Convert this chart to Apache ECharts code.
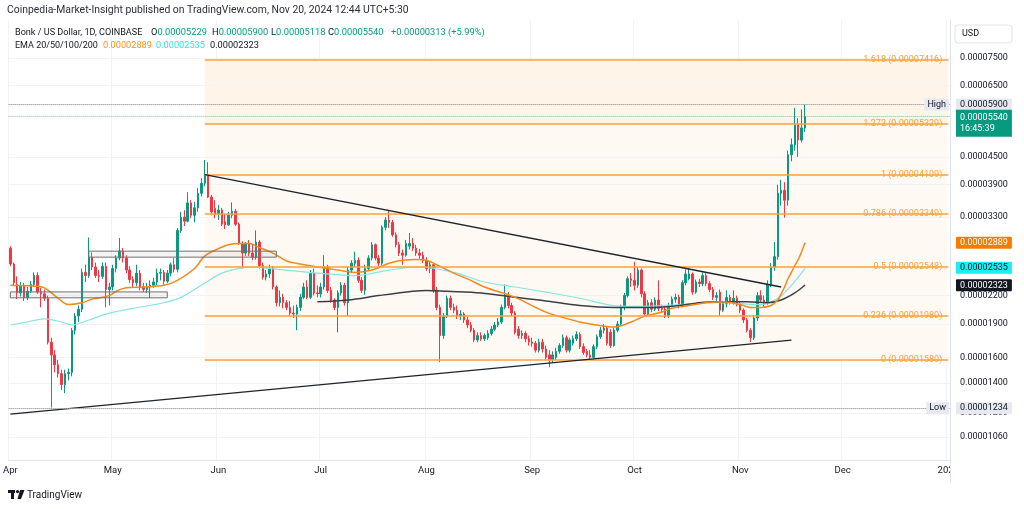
<!DOCTYPE html>
<html>
<head>
<meta charset="utf-8">
<script src="https://cdn.jsdelivr.net/npm/echarts@6.0.0/dist/echarts.min.js"></script>
<style>
html,body{margin:0;padding:0;background:#ffffff;}
#chart{width:1024px;height:509px;}
</style>
</head>
<body>
<div id="chart"></div>
<script>
// ---------- categories (daily, Apr 1 2024 .. Jan 1 2025) ----------
const monthSpans = [['2024-04',30],['2024-05',31],['2024-06',30],['2024-07',31],['2024-08',31],['2024-09',30],['2024-10',31],['2024-11',30],['2024-12',31],['2025-01',1]];
const monthNames = {'01':'2025','04':'Apr','05':'May','06':'Jun','07':'Jul','08':'Aug','09':'Sep','10':'Oct','11':'Nov','12':'Dec'};

// ---------- daily candles [open, close, low, high] in units of 0.00001 USD ----------
const apr = [
[2.81,2.59,2.56,2.84],[2.59,2.35,2.31,2.61],[2.33,2.23,2.16,2.43],[2.23,2.31,2.19,2.36],[2.31,2.18,2.14,2.35],
[2.18,2.25,2.15,2.30],[2.25,2.33,2.23,2.37],[2.33,2.44,2.30,2.48],[2.44,2.24,2.22,2.48],[2.24,2.22,2.07,2.29],
[2.22,2.17,2.14,2.27],[2.17,1.73,1.71,2.20],[1.73,1.62,1.234,1.77],[1.62,1.54,1.48,1.66],[1.54,1.47,1.44,1.58],
[1.47,1.39,1.35,1.50],[1.39,1.47,1.33,1.50],[1.47,1.48,1.42,1.51],[1.48,1.84,1.45,1.86],[1.84,1.98,1.80,2.01],
[1.98,2.05,1.92,2.09],[2.05,2.48,2.02,2.53],[2.48,2.44,2.36,2.58],[2.44,2.68,2.41,2.97],[2.68,2.55,2.51,2.75],
[2.55,2.44,2.41,2.61],[2.44,2.43,2.36,2.51],[2.43,2.56,2.40,2.61],[2.56,2.27,2.07,2.61],[2.27,2.30,2.09,2.35]
];
const may = [
[2.30,2.53,2.26,2.58],[2.53,2.67,2.48,2.71],[2.67,2.77,2.64,2.96],[2.77,2.67,2.61,2.81],[2.67,2.51,2.47,2.71],
[2.51,2.39,2.35,2.56],[2.39,2.35,2.30,2.43],[2.35,2.47,2.31,2.58],[2.47,2.30,2.26,2.51],[2.30,2.27,2.24,2.35],
[2.27,2.30,2.23,2.35],[2.30,2.32,2.17,2.38],[2.32,2.36,2.29,2.41],[2.36,2.47,2.32,2.53],[2.47,2.48,2.38,2.53],
[2.48,2.37,2.33,2.51],[2.37,2.47,2.35,2.51],[2.47,2.58,2.43,2.61],[2.58,2.52,2.48,2.67],[2.52,3.08,2.48,3.12],
[3.08,3.30,3.04,3.39],[3.30,3.23,3.15,3.42],[3.23,3.55,3.21,3.75],[3.55,3.33,3.28,3.60],[3.33,3.46,3.21,3.57],
[3.46,3.73,3.39,3.83],[3.73,3.93,3.67,4.03],[3.93,4.109,3.87,4.43],[4.109,3.66,3.64,4.38],[3.66,3.39,3.33,3.70],
[3.45,3.35,3.28,3.60]
];
const jun = [
[3.35,3.42,3.25,3.51],[3.42,3.18,3.15,3.46],[3.22,3.17,3.10,3.35],[3.17,3.33,3.15,3.39],[3.33,3.40,3.28,3.56],
[3.40,3.18,3.15,3.44],[3.18,2.88,2.86,3.21],[2.88,2.74,2.53,2.91],[2.74,2.87,2.70,2.90],[2.87,2.74,2.70,2.93],
[2.74,2.68,2.64,2.86],[2.68,2.90,2.65,3.08],[2.90,2.57,2.53,2.93],[2.57,2.42,2.39,2.61],[2.42,2.46,2.38,2.51],
[2.46,2.53,2.41,2.58],[2.53,2.30,2.27,2.56],[2.30,2.12,2.08,2.32],[2.12,2.18,2.08,2.26],[2.18,2.12,2.06,2.22],
[2.12,2.07,2.04,2.15],[2.07,2.01,1.98,2.14],[2.01,2.00,1.96,2.09],[2.00,2.07,1.84,2.10],[2.07,2.18,2.03,2.22],
[2.18,2.30,2.16,2.35],[2.30,2.18,2.16,2.38],[2.18,2.47,2.16,2.51],[2.47,2.23,2.20,2.53],[2.23,2.22,2.18,2.32]
];
const jul = [
[2.22,2.30,2.18,2.35],[2.30,2.55,2.27,2.71],[2.55,2.26,2.23,2.58],[2.26,2.15,2.12,2.30],[2.15,2.07,2.04,2.17],
[2.07,2.23,1.82,2.26],[2.23,2.32,2.20,2.36],[2.32,2.12,2.09,2.35],[2.12,2.51,1.98,2.55],[2.51,2.60,2.47,2.64],
[2.60,2.64,2.55,2.76],[2.64,2.38,2.35,2.68],[2.38,2.26,2.23,2.42],[2.26,2.53,2.21,2.58],[2.53,2.67,2.50,2.71],
[2.67,2.86,2.64,2.90],[2.86,2.67,2.64,2.88],[2.67,2.60,2.56,2.71],[2.60,3.13,2.57,3.16],[3.13,3.25,3.08,3.30],
[3.25,3.21,3.12,3.42],[3.21,3.01,2.98,3.25],[3.01,2.86,2.82,3.05],[2.86,2.74,2.70,2.90],[2.74,2.71,2.58,2.79],
[2.71,2.88,2.69,2.93],[2.84,2.88,2.79,3.04],[2.88,2.81,2.77,2.96],[2.81,2.74,2.70,2.86],[2.74,2.71,2.66,2.80],
[2.71,2.64,2.60,2.76]
];
const aug = [
[2.64,2.53,2.50,2.68],[2.53,2.58,2.47,2.62],[2.58,2.26,2.23,2.60],[2.26,2.07,2.04,2.30],[2.07,1.79,1.56,2.10],
[1.79,1.98,1.76,2.01],[1.98,2.17,1.96,2.20],[2.17,2.07,2.04,2.20],[2.07,2.04,2.01,2.11],[2.04,1.98,1.95,2.09],
[1.98,2.00,1.94,2.04],[2.00,1.94,1.91,2.02],[1.94,1.89,1.86,1.97],[1.89,1.84,1.82,1.92],[1.84,1.75,1.73,1.86],
[1.75,1.79,1.73,1.82],[1.79,1.76,1.74,1.82],[1.76,1.79,1.74,1.81],[1.77,1.81,1.75,1.84],[1.81,1.85,1.79,1.88],
[1.85,1.89,1.83,1.92],[1.89,1.92,1.87,1.96],[1.92,2.07,1.90,2.10],[2.07,2.20,2.05,2.33],[2.20,2.09,2.06,2.24],
[2.09,2.01,1.98,2.12],[2.01,1.82,1.80,2.03],[1.85,1.79,1.76,1.88],[1.79,1.81,1.76,1.84],[1.81,1.76,1.73,1.83],
[1.76,1.73,1.70,1.79]
];
const sep = [
[1.73,1.72,1.69,1.77],[1.72,1.66,1.64,1.74],[1.66,1.73,1.64,1.76],[1.73,1.67,1.64,1.76],[1.67,1.60,1.58,1.70],
[1.62,1.58,1.52,1.66],[1.58,1.62,1.56,1.65],[1.60,1.65,1.58,1.68],[1.65,1.70,1.63,1.72],[1.70,1.77,1.68,1.80],
[1.77,1.66,1.64,1.79],[1.66,1.75,1.64,1.77],[1.72,1.76,1.70,1.79],[1.76,1.80,1.74,1.83],[1.80,1.69,1.67,1.82],
[1.69,1.64,1.62,1.72],[1.65,1.62,1.60,1.67],[1.62,1.60,1.58,1.66],[1.60,1.69,1.59,1.71],[1.69,1.78,1.67,1.80],
[1.78,1.84,1.76,1.87],[1.84,1.86,1.81,1.90],[1.86,1.72,1.70,1.88],[1.82,1.70,1.68,1.85],[1.70,1.84,1.69,1.86],
[1.84,1.90,1.82,1.93],[1.90,2.07,1.88,2.10],[2.07,2.20,2.04,2.23],[2.20,2.40,2.18,2.43],[2.40,2.38,2.30,2.47]
];
const oct = [
[2.38,2.32,2.26,2.62],[2.32,2.51,2.29,2.55],[2.51,2.22,2.18,2.53],[2.22,2.00,1.97,2.25],[2.00,2.12,1.98,2.15],
[2.12,2.05,2.02,2.16],[2.05,2.15,2.03,2.18],[2.15,2.06,2.03,2.38],[2.06,2.05,2.01,2.10],[2.05,1.98,1.96,2.08],
[1.98,2.09,1.96,2.12],[2.09,2.16,2.07,2.19],[2.16,2.18,2.12,2.22],[2.18,2.09,2.06,2.21],[2.09,2.35,2.07,2.38],
[2.35,2.46,2.32,2.52],[2.40,2.46,2.38,2.54],[2.46,2.24,2.21,2.48],[2.24,2.36,2.22,2.39],[2.36,2.34,2.30,2.40],
[2.34,2.44,2.31,2.48],[2.44,2.34,2.31,2.47],[2.34,2.27,2.24,2.37],[2.27,2.18,2.15,2.30],[2.18,2.20,2.14,2.24],
[2.24,2.04,1.98,2.27],[2.04,2.11,2.02,2.14],[2.11,2.18,2.07,2.26],[2.18,2.12,2.10,2.21],[2.12,2.17,2.10,2.26],
[2.17,2.11,2.08,2.20]
];
const nov = [
[2.11,2.04,2.01,2.14],[2.04,1.94,1.91,2.06],[1.94,1.84,1.82,1.96],[1.84,1.77,1.73,1.86],[1.77,1.96,1.75,1.99],
[1.96,2.20,1.93,2.24],[2.20,2.15,2.12,2.26],[2.15,2.13,2.08,2.20],[2.13,2.33,2.10,2.38],[2.33,2.55,2.30,2.60],
[2.55,2.69,2.50,2.90],[2.69,3.73,2.65,3.90],[3.73,3.79,3.50,4.00],[3.79,3.60,3.29,3.95],[3.60,4.55,3.50,4.65],
[4.55,4.79,4.40,4.95],[4.79,5.31,4.65,5.80],[5.31,4.91,4.50,5.50],[4.91,5.227,4.85,5.75],[5.229,5.540,5.118,5.900]
];

// ---------- EMA readings [date, value] ----------
const ema20 = [
['2024-04-01',2.32],['2024-04-08',2.31],['2024-04-11',2.29],['2024-04-15',2.17],['2024-04-18',2.10],['2024-04-22',2.12],
['2024-04-25',2.16],['2024-04-30',2.20],['2024-05-02',2.25],['2024-05-05',2.29],['2024-05-10',2.30],['2024-05-16',2.32],
['2024-05-20',2.38],['2024-05-25',2.53],['2024-05-28',2.70],['2024-05-31',2.78],['2024-06-04',2.86],['2024-06-07',2.88],
['2024-06-10',2.88],['2024-06-13',2.82],['2024-06-17',2.74],['2024-06-21',2.63],['2024-06-25',2.59],['2024-06-30',2.55],
['2024-07-06',2.51],['2024-07-11',2.48],['2024-07-16',2.51],['2024-07-21',2.60],['2024-07-25',2.64],['2024-07-29',2.65],
['2024-08-01',2.64],['2024-08-04',2.58],['2024-08-09',2.47],['2024-08-14',2.38],['2024-08-18',2.30],['2024-08-27',2.18],
['2024-09-05',2.02],['2024-09-15',1.92],['2024-09-20',1.89],['2024-09-25',1.87],['2024-09-30',1.92],['2024-10-04',1.98],
['2024-10-08',2.01],['2024-10-12',2.06],['2024-10-17',2.09],['2024-10-22',2.12],['2024-10-27',2.13],['2024-11-01',2.10],
['2024-11-04',2.07],['2024-11-07',2.07],['2024-11-10',2.09],['2024-11-12',2.15],['2024-11-13',2.22],['2024-11-14',2.30],
['2024-11-15',2.40],['2024-11-16',2.48],['2024-11-17',2.57],['2024-11-18',2.65],['2024-11-19',2.76],['2024-11-20',2.889]
];
const ema50 = [
['2024-04-01',1.89],['2024-04-06',1.92],['2024-04-11',1.95],['2024-04-16',1.92],['2024-04-19',1.89],['2024-04-24',1.94],
['2024-04-30',2.01],['2024-05-07',2.06],['2024-05-16',2.12],['2024-05-21',2.18],['2024-05-27',2.32],['2024-06-02',2.47],
['2024-06-07',2.53],['2024-06-11',2.55],['2024-06-16',2.53],['2024-06-23',2.50],['2024-06-30',2.47],['2024-07-11',2.44],
['2024-07-21',2.51],['2024-07-30',2.55],['2024-08-09',2.48],['2024-08-18',2.36],['2024-08-27',2.30],['2024-09-05',2.24],
['2024-09-15',2.17],['2024-09-25',2.09],['2024-10-03',2.08],['2024-10-14',2.10],['2024-10-26',2.12],['2024-11-07',2.10],
['2024-11-12',2.17],['2024-11-16',2.32],['2024-11-20',2.535]
];
const ema200 = [
['2024-06-30',2.13],['2024-07-09',2.15],['2024-07-18',2.20],['2024-07-28',2.25],['2024-08-01',2.26],['2024-08-07',2.25],
['2024-08-17',2.23],['2024-08-27',2.18],['2024-09-05',2.14],['2024-09-15',2.09],['2024-09-25',2.07],['2024-10-05',2.07],
['2024-10-14',2.09],['2024-10-24',2.13],['2024-11-03',2.13],['2024-11-09',2.12],['2024-11-13',2.15],['2024-11-17',2.23],
['2024-11-20',2.323]
];

// ---------- price axis ticks, fib levels, drawings ----------
const priceTicks = [7.5, 6.5, 4.5, 3.9, 3.3, 2.2, 1.9, 1.6, 1.4, 1.2, 1.06];
const fibRatios = ['1.618','1.272','1','0.786','0.5','0.236','0'];
const fibValues = [7.416, 5.329, 4.109, 3.349, 2.548, 1.980, 1.580];
const fibStart = '2024-05-28';
const trendDown = [['2024-05-28', 4.109], ['2024-11-13', 2.30]];
const trendUp = [['2024-04-01', 1.193], ['2024-11-16', 1.748]];
const boxA = [['2024-04-24', 2.767], ['2024-06-18', 2.683]];
const boxB = [['2024-04-01', 2.242], ['2024-05-17', 2.175]];
const highValue = 5.900, lowValue = 1.234, lastPrice = 5.540;
const emaLast = [2.889, 2.535, 2.323];

// ---------- build ----------
const categories = [];
monthSpans.forEach(([m, n]) => { for (let d = 1; d <= n; d++) categories.push(m + '-' + String(d).padStart(2, '0')); });
const candles = [].concat(apr, may, jun, jul, aug, sep, oct, nov);
const lastCat = categories[categories.length - 1];
const fmt = v => (v * 1e-5).toFixed(8);
const isMonthStart = (i, v) => String(v).slice(8) === '01';

const GREEN = '#089981', RED = '#f23645', FIB = '#f7a23a', TXT = '#131722';
const FONT = 'Roboto';
const base = {fontFamily: FONT, fontSize: 9};

const axisLabelLines = priceTicks.map(v => ({
  yAxis: v,
  label: {formatter: fmt(v)}
}));

const tag = (v, text, bg, fg) => ({
  yAxis: v,
  lineStyle: {color: 'rgba(0,0,0,0)', width: 0},
  label: {formatter: text, backgroundColor: bg, color: fg, padding: [2, 4, 1, 4], distance: 6, borderRadius: 1}
});

const option = {
  animation: false,
  backgroundColor: '#ffffff',
  textStyle: {fontFamily: FONT},
  grid: {left: 8, right: 74, top: 20, bottom: 49},
  xAxis: {
    type: 'category', data: categories, boundaryGap: true,
    axisLine: {show: true, lineStyle: {color: '#e0e3eb'}},
    axisTick: {show: false},
    axisLabel: {interval: isMonthStart, formatter: v => monthNames[v.slice(5, 7)], color: TXT, fontSize: 9.5, fontFamily: FONT, margin: 6},
    splitLine: {show: true, interval: isMonthStart, lineStyle: {color: '#f0f2f6', width: 1}}
  },
  yAxis: {
    type: 'log', logBase: 10, min: 0.9416, max: 9.125, position: 'right',
    axisLine: {show: false}, axisTick: {show: false}, axisLabel: {show: false}, splitLine: {show: false}
  },
  series: [
    { // background: fib fills + price grid/labels
      type: 'line', data: [], clip: false, silent: true,
      markArea: {
        z: 1, silent: true,
        data: [
          [{coord: [fibStart, fibValues[0]], itemStyle: {color: '#fef4e7'}}, {coord: [lastCat, fibValues[1]]}],
          [{coord: [fibStart, fibValues[1]], itemStyle: {color: '#fff9f3'}}, {coord: [lastCat, fibValues[6]]}]
        ]
      },
      markLine: {
        z: 1, silent: true, symbol: ['none', 'none'],
        lineStyle: {color: '#f1f3f7', width: 1, type: 'solid'},
        label: Object.assign({position: 'end', distance: 10, color: TXT}, base),
        data: axisLabelLines
      }
    },
    {
      name: 'Bonk', type: 'candlestick', z: 3, data: candles, barWidth: 2,
      itemStyle: {color: GREEN, color0: RED, borderColor: GREEN, borderColor0: RED, borderWidth: 1}
    },
    {type: 'line', z: 4, data: ema50, showSymbol: false, smooth: 0.35, silent: true, lineStyle: {color: '#86e4e1', width: 1.2}},
    {type: 'line', z: 4, data: ema200, showSymbol: false, smooth: 0.35, silent: true, lineStyle: {color: '#3a3e48', width: 1.5}},
    {type: 'line', z: 4, data: ema20, showSymbol: false, smooth: 0.35, silent: true, lineStyle: {color: '#f08a1c', width: 1.5}},
    { // fib lines + boxes
      type: 'line', data: [], clip: false, silent: true,
      markArea: {
        z: 5, silent: true,
        itemStyle: {color: 'rgba(150,150,150,0.10)', borderColor: '#707070', borderWidth: 1},
        data: [
          [{coord: boxA[0]}, {coord: boxA[1]}],
          [{coord: boxB[0]}, {coord: boxB[1]}]
        ]
      },
      markLine: {
        z: 5, silent: true, symbol: ['none', 'none'],
        lineStyle: {color: FIB, width: 1.5, type: 'solid'},
        label: Object.assign({position: 'insideEnd', distance: [6, 0], color: FIB}, base),
        data: fibValues.map((v, k) => [
          {coord: [fibStart, v], label: {formatter: fibRatios[k] + ' (' + fmt(v) + ')'}},
          {coord: [lastCat, v]}
        ])
      }
    },
    { // trend lines
      type: 'line', data: [], clip: false, silent: true,
      markLine: {
        z: 6, silent: true, symbol: ['none', 'none'],
        lineStyle: {color: '#1e222d', width: 1.4, type: 'solid'},
        label: {show: false},
        data: [
          [{coord: trendDown[0]}, {coord: trendDown[1]}],
          [{coord: trendUp[0]}, {coord: trendUp[1]}]
        ]
      }
    },
    { // high / low / last price / EMA tags
      type: 'line', data: [], clip: false, silent: true,
      markLine: {
        z: 7, silent: true, symbol: ['none', 'none'],
        label: Object.assign({position: 'end', distance: 6}, base),
        data: [
          {yAxis: highValue, lineStyle: {type: 'dotted', color: '#a3a6af', width: 1},
            label: {formatter: fmt(highValue), backgroundColor: '#e6e9f0', color: TXT, padding: [2, 4, 1, 4]}},
          {yAxis: highValue, lineStyle: {type: 'dotted', color: '#a3a6af', width: 1},
            label: {position: 'insideEnd', distance: [1, 0], formatter: 'High', backgroundColor: '#e6e9f0', color: TXT, padding: [2, 3, 1, 3]}},
          {yAxis: lowValue, lineStyle: {type: 'dotted', color: '#a3a6af', width: 1},
            label: {formatter: fmt(lowValue), backgroundColor: '#e6e9f0', color: TXT, padding: [2, 4, 1, 4]}},
          {yAxis: lowValue, lineStyle: {type: 'dotted', color: '#a3a6af', width: 1},
            label: {position: 'insideEnd', distance: [1, 0], formatter: 'Low', backgroundColor: '#e6e9f0', color: TXT, padding: [2, 3, 1, 3]}},
          {yAxis: lastPrice, lineStyle: {type: 'dotted', color: 'rgba(8,153,129,0.55)', width: 1},
            label: {formatter: fmt(lastPrice) + '\n16:45:39', backgroundColor: GREEN, color: '#ffffff', padding: [3, 4, 2, 4], lineHeight: 11, verticalAlign: 'top', offset: [0, -7]}},
          tag(emaLast[0], fmt(emaLast[0]), '#f57c00', '#ffffff'),
          tag(emaLast[1], fmt(emaLast[1]), '#19eef2', TXT),
          tag(emaLast[2], fmt(emaLast[2]), '#131722', '#ffffff')
        ]
      }
    }
  ],
  graphic: [
    {type: 'rect', z: 100, shape: {x: 951, y: 461, width: 73, height: 22}, style: {fill: '#ffffff'}},
    {type: 'line', z: 100, shape: {x1: 950.5, y1: 20, x2: 950.5, y2: 483}, style: {stroke: '#e0e3eb', lineWidth: 1}},
    {type: 'rect', z: 100, shape: {x: 955, y: 25, width: 57, height: 18, r: 3}, style: {fill: '#ffffff', stroke: '#e0e3eb', lineWidth: 1}},
    {type: 'text', z: 101, x: 962, y: 34, style: {text: 'USD', fill: TXT, font: '9px Roboto', verticalAlign: 'middle'}},
    {type: 'text', z: 101, x: 7, y: 10, style: {text: 'Coinpedia-Market-Insight published on TradingView.com, Nov 20, 2024 12:44 UTC+5:30', fill: '#2a2e39', font: '10.4px Roboto', verticalAlign: 'middle'}},
    {type: 'text', z: 101, x: 15, y: 33, style: {text: 'Bonk / US Dollar, 1D, COINBASE', fill: TXT, font: '9.1px Roboto', verticalAlign: 'middle'}},
    {type: 'text', z: 101, x: 151, y: 33, style: {text: '{d|O}{g|' + fmt(nov[19][0]) + '}', rich: {d: {fill: TXT}, g: {fill: GREEN}}, font: '9.3px Roboto', verticalAlign: 'middle'}},
    {type: 'text', z: 101, x: 212, y: 33, style: {text: '{d|H}{g|' + fmt(nov[19][3]) + '}', rich: {d: {fill: TXT}, g: {fill: GREEN}}, font: '9.3px Roboto', verticalAlign: 'middle'}},
    {type: 'text', z: 101, x: 271, y: 33, style: {text: '{d|L}{g|' + fmt(nov[19][2]) + '}', rich: {d: {fill: TXT}, g: {fill: GREEN}}, font: '9.3px Roboto', verticalAlign: 'middle'}},
    {type: 'text', z: 101, x: 328, y: 33, style: {text: '{d|C}{g|' + fmt(nov[19][1]) + '}', rich: {d: {fill: TXT}, g: {fill: GREEN}}, font: '9.3px Roboto', verticalAlign: 'middle'}},
    {type: 'text', z: 101, x: 391, y: 33, style: {text: '+0.00000313 (+5.99%)', fill: GREEN, font: '9.3px Roboto', verticalAlign: 'middle'}},
    {type: 'text', z: 101, x: 15, y: 46, style: {text: 'EMA 20/50/100/200', fill: TXT, font: '9px Roboto', verticalAlign: 'middle'}},
    {type: 'text', z: 101, x: 103, y: 46, style: {text: fmt(emaLast[0]), fill: '#f7931a', font: '9.2px Roboto', verticalAlign: 'middle'}},
    {type: 'text', z: 101, x: 156, y: 46, style: {text: fmt(emaLast[1]), fill: '#2fe3ea', font: '9.2px Roboto', verticalAlign: 'middle'}},
    {type: 'text', z: 101, x: 210, y: 46, style: {text: fmt(emaLast[2]), fill: TXT, font: '9.2px Roboto', verticalAlign: 'middle'}},
    {type: 'group', z: 101, children: [
      {type: 'rect', shape: {x: 8, y: 490, width: 7, height: 3}, style: {fill: TXT}},
      {type: 'rect', shape: {x: 11, y: 490, width: 3, height: 9}, style: {fill: TXT}},
      {type: 'circle', shape: {cx: 17.5, cy: 491.6, r: 1.6}, style: {fill: TXT}},
      {type: 'polygon', shape: {points: [[20, 490], [24.5, 490], [21, 499], [17.5, 499]]}, style: {fill: TXT}}
    ]},
    {type: 'text', z: 101, x: 27, y: 495, style: {text: 'TradingView', fill: TXT, font: '10px Roboto', verticalAlign: 'middle'}}
  ]
};

const chart = echarts.init(document.getElementById('chart'));
chart.setOption(option);
</script>
</body>
</html>
